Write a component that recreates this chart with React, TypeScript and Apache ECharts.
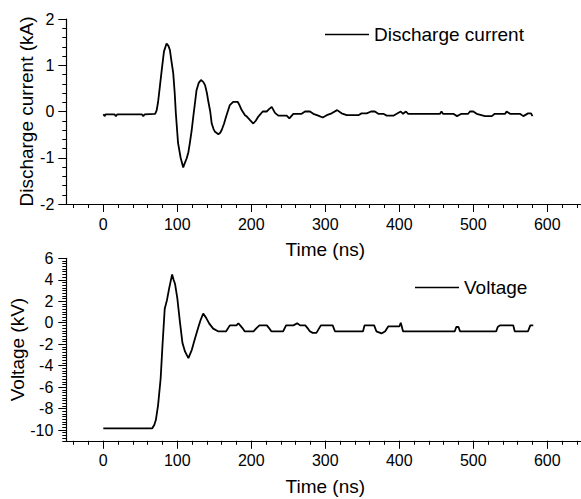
import React, { useEffect, useRef } from "react";
import * as echarts from "echarts";

// Discharge current (kA) vs time (ns)
const currentData: [number, number][] = [
  [0, -0.06], [2, -0.1], [3, -0.06], [15, -0.06], [17, -0.1], [19, -0.06], [52, -0.06], [54, -0.1], [56, -0.06],
  [70, -0.05], [72, 0.02], [74, 0.2], [76.5, 0.55], [79, 0.9], [82, 1.3], [85.5, 1.47], [88, 1.42], [90, 1.33],
  [92, 1.1], [94.5, 0.83], [96.5, 0.4], [98, -0.03], [101, -0.68], [104.5, -1.0], [108, -1.21], [110, -1.12],
  [112.7, -1.01], [115, -0.88], [117, -0.68], [119.5, -0.4], [121.6, -0.11], [124, 0.2], [126, 0.46], [129, 0.62],
  [132, 0.68], [135, 0.64], [137.5, 0.57], [140, 0.4], [142, 0.21], [144.5, 0.0], [146.5, -0.26], [149, -0.38],
  [151, -0.44], [155.5, -0.49], [158, -0.46], [160, -0.4], [163, -0.27], [166, -0.11], [171, 0.14], [175.5, 0.21],
  [181.5, 0.21], [184, 0.14], [187, 0.03], [191.5, -0.08], [194, -0.11], [198, -0.18], [202.7, -0.26], [206, -0.2],
  [209.5, -0.11], [215.4, 0.0], [220.8, 0.0], [224, 0.05], [227.6, 0.1], [232, -0.03], [236.5, -0.09], [247.8, -0.09],
  [251.4, -0.15], [256.8, -0.05], [268, -0.05], [272.6, 0], [279.3, 0], [283.8, -0.05], [290.5, -0.09], [296.5, -0.13],
  [302, -0.08], [308.6, -0.04], [316, 0.03], [322, -0.04], [329, -0.08], [344.6, -0.08], [349, -0.04], [356, -0.04],
  [361.8, 0], [367, 0], [371.6, -0.05], [378.4, -0.05], [383, -0.09], [392, -0.09], [396.5, -0.05], [402, 0],
  [405, -0.05], [409, 0], [412, -0.05], [455, -0.05], [457, 0], [459, -0.05], [473, -0.05], [478, -0.1], [484, -0.05],
  [493, -0.05], [495.5, 0], [500, 0], [504.6, -0.05], [515.8, -0.1], [525, -0.1], [529, -0.05], [543, -0.05], [545, 0],
  [549.6, -0.05], [563, -0.05], [567.6, -0.1], [574, -0.04], [578, -0.04], [580, -0.1],
];

// Voltage (kV) vs time (ns)
const voltageData: [number, number][] = [
  [0, -9.85], [66, -9.85], [69, -9.5], [71, -9.07], [74, -7.7], [77.5, -5.2], [80, -2.1], [83, 1.3], [86, 2.1],
  [89, 3.2], [93, 4.5], [95, 4.0], [97, 3.6], [100, 2.3], [103.5, 0.1], [107, -1.9], [110.5, -2.7], [115, -3.3],
  [119.5, -2.55], [124, -1.45], [128.5, -0.4], [131.5, 0.25], [135, 0.85], [139, 0.45], [143, -0.06], [148.5, -0.55],
  [155, -0.8], [166, -0.8], [171, -0.25], [180, -0.25], [182.5, -0.05], [185, -0.25], [188, -0.5], [191, -0.8],
  [203, -0.8], [207, -0.5], [211, -0.25], [221, -0.25], [224, -0.5], [227, -0.8], [243, -0.8], [247, -0.25],
  [257, -0.25], [262, -0.05], [266, -0.25], [273, -0.25], [276, -0.5], [279, -0.8], [283, -0.95], [288, -0.95],
  [291, -0.6], [294, -0.25], [310, -0.25], [313, -0.8], [351, -0.8], [353, -0.25], [366, -0.25], [369, -0.8],
  [376, -1.0], [381, -0.8], [385, -0.35], [400, -0.35], [402, 0.0], [405, -0.8], [475, -0.8], [477, -0.4],
  [480, -0.4], [482, -0.8], [531, -0.8], [533, -0.4], [536, -0.25], [554, -0.25], [556, -0.8], [574, -0.8],
  [577, -0.25], [581, -0.25],
];

const xMajorTicks = [0, 100, 200, 300, 400, 500, 600];
const voltageTicks = [-10, -8, -6, -4, -2, 0, 2, 4, 6];

const X_MIN = -50;
const X_MAX = 650;

function range(a: number, b: number, step: number): number[] {
  const out: number[] = [];
  for (let i = 0; a + i * step <= b + 1e-9; i++) out.push(+(a + i * step).toFixed(4));
  return out;
}
const xMinorTicks = range(-40, 640, 20);
const voltageMinorTicks = range(-11, 6, 0.25);

const FONT = "Liberation Sans, Arial, sans-serif";
const BLACK = "#000";

export default function App() {
  const ref = useRef<HTMLDivElement>(null);
  useEffect(() => {
    if (!ref.current) return;
    const chart = echarts.init(ref.current, undefined, { renderer: "svg" });
    const axisLine = () => ({ show: true, onZero: false, lineStyle: { color: BLACK, width: 1.2 } });
    const tickStyle = { color: BLACK, width: 1 };
    const labelStyle = { color: BLACK, fontSize: 16, fontFamily: FONT };
    const nameStyle = { color: BLACK, fontSize: 19, fontFamily: FONT };

    const mainX = (gridIndex: number) => ({
      type: "value",
      gridIndex,
      position: "bottom",
      min: X_MIN,
      max: X_MAX,
      axisLine: axisLine(),
      axisTick: { show: true, length: 8, lineStyle: tickStyle, customValues: xMajorTicks },
      axisLabel: { ...labelStyle, margin: 12, customValues: xMajorTicks },
      splitLine: { show: false },
      name: "Time (ns)",
      nameLocation: "middle",
      nameGap: 36,
      nameMoveOverlap: false,
      nameTextStyle: nameStyle,
    });
    const minorX = (gridIndex: number) => ({
      type: "value",
      gridIndex,
      position: "bottom",
      min: X_MIN,
      max: X_MAX,
      axisLine: { show: false, onZero: false },
      axisTick: { show: true, length: 4, lineStyle: tickStyle, customValues: xMinorTicks },
      axisLabel: { show: false },
      splitLine: { show: false },
    });

    chart.setOption({
      animation: false,
      backgroundColor: "#fff",
      textStyle: { fontFamily: FONT },
      grid: [
        { left: 66.3, top: 19, width: 518, height: 185, outerBoundsMode: "none", containLabel: false },
        { left: 66.3, top: 258.3, width: 518, height: 182.5, outerBoundsMode: "none", containLabel: false },
      ],
      legend: [
        {
          data: ["Discharge current"],
          left: 325,
          top: 25,
          padding: 0,
          icon: "rect",
          itemWidth: 44,
          itemHeight: 1.6,
          itemStyle: { color: BLACK, borderWidth: 0 },
          textStyle: { color: BLACK, fontSize: 19, fontFamily: FONT },
        },
        {
          data: ["Voltage"],
          left: 415,
          top: 278,
          padding: 0,
          icon: "rect",
          itemWidth: 44,
          itemHeight: 1.6,
          itemStyle: { color: BLACK, borderWidth: 0 },
          textStyle: { color: BLACK, fontSize: 19, fontFamily: FONT },
        },
      ],
      xAxis: [mainX(0), minorX(0), mainX(1), minorX(1)],
      yAxis: [
        {
          type: "value",
          gridIndex: 0,
          position: "left",
          min: -2,
          max: 2,
          interval: 1,
          axisLine: axisLine(),
          axisTick: { show: true, length: 8, lineStyle: tickStyle },
          minorTick: { show: true, splitNumber: 5, length: 4, lineStyle: tickStyle },
          axisLabel: { ...labelStyle, margin: 12 },
          splitLine: { show: false },
          minorSplitLine: { show: false },
          name: "Discharge current (kA)",
          nameLocation: "middle",
          nameGap: 30,
          nameMoveOverlap: false,
          nameTextStyle: nameStyle,
        },
        {
          type: "value",
          gridIndex: 1,
          position: "left",
          min: -11,
          max: 6,
          axisLine: axisLine(),
          axisTick: { show: true, length: 8, lineStyle: tickStyle, customValues: voltageTicks },
          axisLabel: { ...labelStyle, margin: 13, customValues: voltageTicks },
          splitLine: { show: false },
          name: "Voltage (kV)",
          nameLocation: "middle",
          nameGap: 39,
          nameMoveOverlap: false,
          nameTextStyle: nameStyle,
        },
        {
          type: "value",
          gridIndex: 1,
          position: "left",
          min: -11,
          max: 6,
          axisLine: { show: false, onZero: false },
          axisTick: { show: true, length: 4, lineStyle: tickStyle, customValues: voltageMinorTicks },
          axisLabel: { show: false },
          splitLine: { show: false },
        },
      ],
      series: [
        {
          name: "Discharge current",
          type: "line",
          xAxisIndex: 0,
          yAxisIndex: 0,
          data: currentData,
          symbol: "none",
          color: BLACK,
          lineStyle: { color: BLACK, width: 1.8 },
        },
        {
          name: "Voltage",
          type: "line",
          xAxisIndex: 2,
          yAxisIndex: 1,
          data: voltageData,
          symbol: "none",
          color: BLACK,
          lineStyle: { color: BLACK, width: 1.8 },
        },
      ],
    } as any);
    return () => chart.dispose();
  }, []);
  return (
    <div
      ref={ref}
      style={{ position: "fixed", left: 0, top: 0, width: 581, height: 499 }}
    />
  );
}
